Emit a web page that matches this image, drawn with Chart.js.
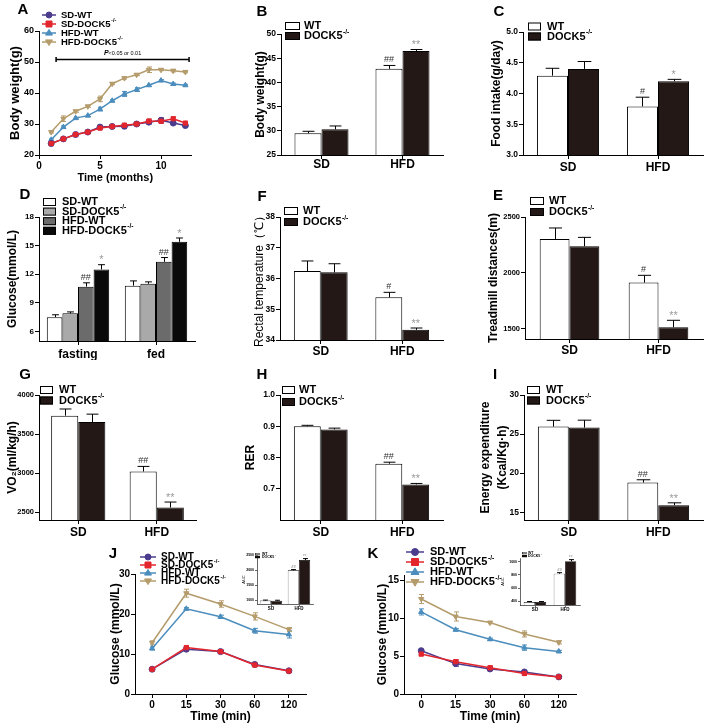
<!DOCTYPE html>
<html>
<head>
<meta charset="utf-8">
<script src="https://cdn.jsdelivr.net/npm/chart.js@4.4.1/dist/chart.umd.min.js"></script>
<style>
  body { margin: 0; background: #fff; }
  #wrap { position: relative; width: 709px; height: 725px; overflow: hidden; background: #fff; }
  #wrap canvas { position: absolute; }
</style>
</head>
<body>
<div id="wrap"></div>
<script>
// ---- data ----
const months = [1, 2, 3, 4, 5, 6, 7, 8, 9, 10, 11, 12];
const monthTicks = [0, 5, 10];
const bwSdWt = [23.7, 25.2, 26.6, 27.4, 29.0, 29.2, 29.3, 30.0, 30.6, 31.2, 30.3, 29.5];
const bwSdWtErr = [0.3, 0.3, 0.3, 0.3, 0.4, 0.5, 0.8, 0.4, 0.6, 0.8, 0.4, 0.3];
const bwSdKo = [23.7, 25.2, 26.6, 27.4, 28.7, 29.2, 29.6, 30.0, 30.9, 30.9, 31.7, 30.3];
const bwSdKoErr = [0.3, 0.3, 0.3, 0.4, 0.4, 0.6, 0.6, 0.5, 0.7, 0.6, 0.5, 0.4];
const bwHfdWt = [24.9, 29.0, 31.9, 32.7, 34.8, 37.5, 39.7, 41.1, 42.5, 44.0, 42.9, 42.5];
const bwHfdWtErr = [0.3, 0.4, 0.3, 0.3, 0.6, 0.3, 0.8, 0.6, 0.3, 0.3, 0.3, 0.3];
const bwHfdKo = [27.4, 31.7, 34.1, 35.7, 38.1, 43.0, 44.8, 45.9, 47.5, 47.5, 47.2, 46.8];
const bwHfdKoErr = [0.3, 0.9, 0.3, 0.3, 0.9, 0.3, 0.3, 0.3, 0.9, 0.3, 0.4, 0.3];
const bwTrend = { from: 1.4, to: 12.3, y: 51, text: '<0.05 or 0.01' };

const dietGroups = ['SD', 'HFD'];
const bwWt = [29.5, 42.8], bwWtErr = [0.4, 0.7];
const bwKo = [30.3, 46.5], bwKoErr = [0.7, 0.3];
const foodWt = [4.29, 3.79], foodWtErr = [0.12, 0.15];
const foodKo = [4.40, 4.20], foodKoErr = [0.12, 0.03];

const glucoseStates = ['fasting', 'fed'];
const gluSdWt = [7.5, 10.8], gluSdWtErr = [0.25, 0.5];
const gluSdKo = [7.9, 11.0], gluSdKoErr = [0.15, 0.2];
const gluHfdWt = [10.7, 13.3], gluHfdWtErr = [0.4, 0.45];
const gluHfdKo = [12.5, 15.4], gluHfdKoErr = [0.5, 0.4];

const tempWt = [36.24, 35.39], tempWtErr = [0.33, 0.16];
const tempKo = [36.20, 34.33], tempKoErr = [0.28, 0.06];
const runWt = [2304, 1914], runWtErr = [98, 65];
const runKo = [2238, 1515], runKoErr = [80, 62];
const vo2Wt = [3736, 3021], vo2WtErr = [85, 65];
const vo2Ko = [3655, 2560], vo2KoErr = [100, 70];
const rerWt = [0.900, 0.780], rerWtErr = [0.003, 0.005];
const rerKo = [0.890, 0.714], rerKoErr = [0.004, 0.003];
const eeWt = [25.96, 18.8], eeWtErr = [0.8, 0.35];
const eeKo = [25.83, 15.9], eeKoErr = [0.95, 0.3];

const sigWt1 = ['', '#'], sigWt2 = ['', '##'];
const sigKo1 = ['', '*'], sigKo2 = ['', '**'];

const testTimes = ['0', '15', '30', '60', '120'];
const gttSdWt = [6.2, 11.2, 10.6, 7.4, 5.8], gttSdWtErr = [0.3, 0.4, 0.3, 0.3, 0.3];
const gttSdKo = [6.2, 11.6, 10.6, 7.25, 5.75], gttSdKoErr = [0.3, 0.5, 0.4, 0.4, 0.4];
const gttHfdWt = [11.4, 21.3, 19.3, 15.8, 14.9], gttHfdWtErr = [0.4, 0.3, 0.4, 0.6, 0.9];
const gttHfdKo = [12.8, 25.2, 22.5, 19.4, 16.1], gttHfdKoErr = [0.5, 1.0, 0.8, 0.9, 0.5];
const ittSdWt = [5.7, 4.0, 3.3, 2.9, 2.25], ittSdWtErr = [0.15, 0.35, 0.2, 0.2, 0.1];
const ittSdKo = [5.25, 4.25, 3.45, 2.7, 2.25], ittSdKoErr = [0.2, 0.25, 0.25, 0.25, 0.15];
const ittHfdWt = [10.8, 8.45, 7.2, 6.1, 5.6], ittHfdWtErr = [0.4, 0.15, 0.15, 0.35, 0.15];
const ittHfdKo = [12.5, 10.2, 9.4, 7.9, 6.8], ittHfdKoErr = [0.6, 0.6, 0.15, 0.4, 0.2];
const aucGttWt = [985, 1990], aucGttWtErr = [15, 25];
const aucGttKo = [975, 2330], aucGttKoErr = [20, 50];
const aucIttWt = [385, 820], aucIttWtErr = [8, 15];
const aucIttKo = [385, 1010], aucIttKoErr = [8, 25];

// ---- styles ----
const FONT = "'Liberation Sans', Arial, Helvetica, sans-serif";
Chart.defaults.font.family = FONT;
Chart.defaults.color = '#000';
const KO_FILL = '#231815';
const lineStyles = [
  { text: 'SD-WT', color: '#4b3c8e', style: 'circle', rot: 0, order: 1 },
  { text: 'SD-DOCK5', sup: '-/-', color: '#e3262e', style: 'rect', rot: 0, order: 0 },
  { text: 'HFD-WT', color: '#4b8dbd', style: 'triangle', rot: 0, order: 2 },
  { text: 'HFD-DOCK5', sup: '-/-', color: '#b59c6c', style: 'triangle', rot: 180, order: 3 }
];
const barLegend = [{ text: 'WT', fill: '#fff' }, { text: 'DOCK5', sup: '-/-', fill: KO_FILL }];
const glucoseFills = ['#fff', '#a9a9a9', '#6b6b6b', '#0a0a0a'];

const wrap = document.getElementById('wrap');
function makeCanvas(box) {
  const c = document.createElement('canvas');
  c.width = box.w; c.height = box.h;
  c.style.left = box.left + 'px'; c.style.top = box.top + 'px';
  c.style.width = box.w + 'px'; c.style.height = box.h + 'px';
  wrap.appendChild(c);
  return c.getContext('2d');
}

function frame(box, area) {
  return {
    padding: { left: 0, top: area.y0 - box.top, right: box.left + box.w - area.x1, bottom: 0 },
    yWidth: area.x0 - box.left,
    xHeight: box.top + box.h - area.y1
  };
}

function supText(ctx, x, y, text, sup, size, weight) {
  ctx.font = `${weight} ${size}px ${FONT}`;
  ctx.fillText(text, x, y);
  if (sup) {
    const w = ctx.measureText(text).width;
    ctx.font = `${weight} ${size * 0.6}px ${FONT}`;
    ctx.fillText(sup, x + w + 0.5, y - size * 0.38);
  }
}

function marker(ctx, style, rot, x, y, r) {
  ctx.beginPath();
  if (style === 'circle') ctx.arc(x, y, r, 0, Math.PI * 2);
  else if (style === 'rect') ctx.rect(x - r, y - r, 2 * r, 2 * r);
  else {
    const s = rot ? -1 : 1;
    ctx.moveTo(x, y - s * r * 1.2);
    ctx.lineTo(x - r * 1.15, y + s * r * 0.7);
    ctx.lineTo(x + r * 1.15, y + s * r * 0.7);
    ctx.closePath();
  }
  ctx.fill();
  ctx.stroke();
}

// error bars (GraphPad style) + significance marks
function drawErrors(chart, type) {
  const ctx = chart.ctx;
  chart.data.datasets.forEach((ds, di) => {
    if (!ds.errors) return;
    const meta = chart.getDatasetMeta(di);
    if (meta.type !== type) return;
    const ys = chart.scales[meta.yAxisID];
    meta.data.forEach((el, i) => {
      const d = ds.data[i];
      const v = typeof d === 'object' ? d.y : d;
      const e = ds.errors[i];
      const top = ys.getPixelForValue(v + e);
      const x = Math.round(el.x) + 0.5;
      ctx.save();
      ctx.strokeStyle = ds.errorColor || '#000';
      ctx.lineWidth = ds.errorWidth || 1;
      ctx.beginPath();
      if (type === 'bar') {
        const half = el.width * 0.22;
        ctx.moveTo(x, el.y); ctx.lineTo(x, top);
        ctx.moveTo(x - half, top); ctx.lineTo(x + half, top);
      } else {
        const bot = ys.getPixelForValue(v - e);
        const half = ds.capHalf || 2.5;
        ctx.moveTo(x, bot); ctx.lineTo(x, top);
        ctx.moveTo(x - half, top); ctx.lineTo(x + half, top);
        ctx.moveTo(x - half, bot); ctx.lineTo(x + half, bot);
      }
      ctx.stroke();
      if (ds.sig && ds.sig[i]) {
        const star = ds.sig[i].includes('*');
        const sz = (ds.sigSize || 9) * (star ? 1.2 : 1);
        ctx.fillStyle = ds.sigColor || '#333';
        ctx.font = `${sz}px ${FONT}`;
        ctx.textAlign = 'center';
        ctx.textBaseline = 'alphabetic';
        ctx.fillText(ds.sig[i], el.x, top - sz * (star ? 0.12 : 0.33));
      }
      ctx.restore();
    });
  });
}
const errorBars = {
  id: 'errorBars',
  beforeDatasetsDraw(chart) { drawErrors(chart, 'line'); },
  afterDatasetsDraw(chart) { drawErrors(chart, 'bar'); }
};

// panel letter, legend and trend bracket
const decor = {
  id: 'decor',
  afterDraw(chart, args, o) {
    const ctx = chart.ctx;
    const ox = o.ox || 0, oy = o.oy || 0;
    ctx.save();
    ctx.fillStyle = '#000';
    ctx.textBaseline = 'middle';
    if (o.letter) {
      ctx.textAlign = 'center';
      ctx.font = `bold ${o.letter.size || 15}px ${FONT}`;
      ctx.fillText(o.letter.text, o.letter.x - ox, o.letter.y - oy);
    }
    if (o.bracket) {
      const b = o.bracket;
      const xs = chart.scales.x, ys = chart.scales.y;
      const x1 = xs.getPixelForValue(b.from), x2 = xs.getPixelForValue(b.to);
      const y = Math.round(ys.getPixelForValue(b.y)) + 0.5;
      ctx.strokeStyle = '#000'; ctx.lineWidth = 1.5;
      ctx.beginPath();
      ctx.moveTo(x1, y); ctx.lineTo(x2, y);
      ctx.moveTo(x1, y - 2.5); ctx.lineTo(x1, y + 2.5);
      ctx.moveTo(x2, y - 2.5); ctx.lineTo(x2, y + 2.5);
      ctx.stroke();
      ctx.font = `italic bold 7px ${FONT}`;
      const pw = ctx.measureText('P').width;
      ctx.font = `5.5px ${FONT}`;
      const tw = ctx.measureText(b.text).width;
      const sx = (x1 + x2) / 2 - (pw + tw) / 2;
      ctx.textAlign = 'left';
      ctx.font = `italic bold 7px ${FONT}`;
      ctx.fillText('P', sx, y - 6);
      ctx.font = `5.5px ${FONT}`;
      ctx.fillText(b.text, sx + pw, y - 6);
    }
    if (o.legend) {
      const L = o.legend;
      ctx.textAlign = 'left';
      L.items.forEach((it, i) => {
        const cy = L.y + i * L.row - oy;
        const mx = L.x - ox;
        if (it.style) {
          ctx.strokeStyle = it.color; ctx.lineWidth = 1.5;
          ctx.beginPath(); ctx.moveTo(mx - L.lineW / 2, cy); ctx.lineTo(mx + L.lineW / 2, cy); ctx.stroke();
          ctx.fillStyle = it.color; ctx.lineWidth = 1;
          marker(ctx, it.style, it.rot, mx, cy, L.r);
        } else {
          ctx.fillStyle = it.fill;
          ctx.fillRect(mx, cy - L.boxH / 2, L.boxW, L.boxH);
          ctx.strokeStyle = '#000'; ctx.lineWidth = L.lw || 1;
          ctx.strokeRect(mx + 0.5, cy - L.boxH / 2 + 0.5, L.boxW - 1, L.boxH - 1);
        }
        ctx.fillStyle = '#000';
        supText(ctx, L.textX - ox, cy, it.text, it.sup, L.size, 'bold');
      });
    }
    ctx.restore();
  }
};

function yScale(o, f) {
  return {
    min: o.min, max: o.max,
    afterBuildTicks(s) { s.ticks = o.ticks.map(v => ({ value: v })); },
    grid: { drawOnChartArea: false, tickLength: o.yTick || 4, color: '#000', lineWidth: o.axisW || 1 },
    border: { color: '#000', width: o.axisW || 1 },
    ticks: { color: '#000', padding: 1, font: { size: o.yFont || 8.5, weight: 'bold' }, callback: o.fmt || (v => String(v)) },
    title: {
      display: true, text: o.title, color: '#000',
      font: { size: o.tSize || 12, weight: o.tWeight || 'bold', lineHeight: o.tLh || 1.2 },
      padding: { top: o.tPad, bottom: 0 }
    },
    afterFit(s) { s.width = f.yWidth; }
  };
}

function barChart(box, area, o) {
  const f = frame(box, area);
  return new Chart(makeCanvas(box), {
    type: 'bar',
    data: { labels: o.labels, datasets: o.datasets },
    options: {
      responsive: false, animation: false, devicePixelRatio: 1,
      layout: { padding: f.padding },
      datasets: { bar: { categoryPercentage: o.cat, barPercentage: 1, borderWidth: o.bw || 1, borderColor: '#000', borderSkipped: 'bottom' } },
      plugins: { legend: { display: false }, tooltip: { enabled: false }, decor: Object.assign({ ox: box.left, oy: box.top }, o.decor) },
      scales: {
        x: {
          offset: true,
          grid: { drawOnChartArea: false, offset: false, tickLength: o.xTick || 4, color: '#000', lineWidth: o.axisW || 1 },
          border: { color: '#000', width: o.axisW || 1 },
          ticks: { color: '#000', padding: o.xPad || 0, font: { size: o.xFont || 12, weight: 'bold' } },
          afterFit(s) { s.height = f.xHeight; }
        },
        y: yScale(o, f)
      }
    },
    plugins: [errorBars, decor]
  });
}

function lineChart(box, area, o) {
  const f = frame(box, area);
  return new Chart(makeCanvas(box), {
    type: 'line',
    data: { labels: o.labels, datasets: o.datasets },
    options: {
      responsive: false, animation: false, devicePixelRatio: 1,
      layout: { padding: f.padding },
      plugins: { legend: { display: false }, tooltip: { enabled: false }, decor: Object.assign({ ox: box.left, oy: box.top }, o.decor) },
      scales: {
        x: Object.assign({
          grid: { drawOnChartArea: false, offset: false, tickLength: 4, color: '#000' },
          border: { color: '#000' },
          ticks: { color: '#000', padding: o.xPad, font: { size: o.xFont, weight: 'bold' } },
          title: { display: true, text: o.xTitle, color: '#000', font: { size: o.xtSize, weight: 'bold' }, padding: { top: 0, bottom: o.xtPad } },
          afterFit(s) { s.height = f.xHeight; }
        }, o.x),
        y: yScale(o, f)
      }
    },
    plugins: [errorBars, decor]
  });
}

function pairSets(wt, wtErr, ko, koErr, sigW, sigK, sigSize) {
  return [
    { data: wt, errors: wtErr, sig: sigW, backgroundColor: '#fff', sigColor: '#333', sigSize },
    { data: ko, errors: koErr, sig: sigK, backgroundColor: KO_FILL, sigColor: '#999', sigSize }
  ];
}

function lineSets(series, errs, toPoint, r) {
  return series.map((data, i) => {
    const s = lineStyles[i];
    return {
      data: toPoint ? data.map((v, j) => ({ x: toPoint[j], y: v })) : data,
      errors: errs[i],
      borderColor: s.color, backgroundColor: s.color, errorColor: s.color,
      pointStyle: s.style, pointRotation: s.rot, pointRadius: r, pointBorderWidth: 1,
      borderWidth: 1.5, tension: 0, order: s.order, capHalf: 2.5
    };
  });
}

function barLegendAt(x, y, row, textX, boxW) {
  return { x, y, row, textX, boxW: boxW || 14, boxH: 8, size: 11, items: barLegend };
}

// ---- A: body weight over time ----
lineChart({ left: 0, top: 0, w: 230, h: 190 }, { x0: 39, x1: 191.5, y0: 31, y1: 155 }, {
  datasets: lineSets([bwSdWt, bwSdKo, bwHfdWt, bwHfdKo], [bwSdWtErr, bwSdKoErr, bwHfdWtErr, bwHfdKoErr], months, 3),
  x: { type: 'linear', min: 0, max: 12.5, afterBuildTicks(s) { s.ticks = monthTicks.map(v => ({ value: v })); } },
  xFont: 10, xPad: 1, xTitle: 'Time (months)', xtSize: 11, xtPad: 5,
  min: 20, max: 60, ticks: [20, 30, 40, 50, 60], yFont: 9,
  title: 'Body weight(g)', tSize: 13, tPad: 8,
  decor: {
    letter: { text: 'A', x: 23, y: 10 },
    bracket: bwTrend,
    legend: { x: 49, lineW: 14, r: 3, textX: 61, y: 15, row: 9, size: 9.5, items: lineStyles }
  }
});

// ---- B: body weight ----
barChart({ left: 230, top: 0, w: 240, h: 175 }, { x0: 281, x1: 443, y0: 34, y1: 155 }, {
  labels: dietGroups, cat: 0.667,
  datasets: pairSets(bwWt, bwWtErr, bwKo, bwKoErr, sigWt2, sigKo2),
  min: 25, max: 50, ticks: [25, 30, 35, 40, 45, 50], xPad: -2,
  title: 'Body weight(g)', tPad: 23,
  decor: { letter: { text: 'B', x: 262, y: 12 }, legend: barLegendAt(285, 26, 10, 304, 15) }
});

// ---- C: food intake ----
barChart({ left: 470, top: 0, w: 239, h: 175 }, { x0: 523, x1: 703, y0: 32, y1: 155 }, {
  labels: dietGroups, cat: 0.69,
  datasets: pairSets(foodWt, foodWtErr, foodKo, foodKoErr, sigWt1, sigKo1),
  min: 3, max: 5, ticks: [3, 3.5, 4, 4.5, 5], fmt: v => v.toFixed(1), xPad: 1,
  title: 'Food intake(g/day)', tPad: 19,
  decor: { letter: { text: 'C', x: 499, y: 12 }, legend: barLegendAt(528, 26.5, 10, 547, 13) }
});

// ---- D: glucose ----
barChart({ left: 0, top: 180, w: 230, h: 180 }, { x0: 39, x1: 195, y0: 217, y1: 341 }, {
  labels: glucoseStates, cat: 0.8,
  datasets: [
    { data: gluSdWt, errors: gluSdWtErr, backgroundColor: glucoseFills[0] },
    { data: gluSdKo, errors: gluSdKoErr, backgroundColor: glucoseFills[1] },
    { data: gluHfdWt, errors: gluHfdWtErr, backgroundColor: glucoseFills[2], sig: ['##', '##'], sigColor: '#333' },
    { data: gluHfdKo, errors: gluHfdKoErr, backgroundColor: glucoseFills[3], sig: ['*', '*'], sigColor: '#999' }
  ],
  min: 5, max: 18, ticks: [6, 9, 12, 15, 18], yFont: 8, xPad: 2,
  title: 'Glucose(mmol/L)', tPad: 5,
  decor: {
    letter: { text: 'D', x: 25, y: 195 },
    legend: {
      x: 43, y: 202, row: 9.6, textX: 62, boxW: 13, boxH: 8, size: 11,
      items: lineStyles.map((s, i) => ({ text: s.text, sup: s.sup, fill: glucoseFills[i] }))
    }
  }
});

// ---- F: rectal temperature ----
barChart({ left: 230, top: 180, w: 240, h: 180 }, { x0: 280, x1: 443, y0: 217, y1: 340 }, {
  labels: dietGroups, cat: 0.66,
  datasets: pairSets(tempWt, tempWtErr, tempKo, tempKoErr, sigWt1, sigKo2),
  min: 34, max: 38, ticks: [34, 35, 36, 37, 38], xPad: 0,
  title: 'Rectal temperature（℃）', tWeight: 'normal', tPad: 22,
  decor: { letter: { text: 'F', x: 262, y: 197 }, legend: barLegendAt(284, 211, 11, 303) }
});

// ---- E: treadmill ----
barChart({ left: 470, top: 180, w: 239, h: 180 }, { x0: 525, x1: 703, y0: 217, y1: 339 }, {
  labels: dietGroups, cat: 0.67,
  datasets: pairSets(runWt, runWtErr, runKo, runKoErr, sigWt1, sigKo2),
  min: 1410, max: 2500, ticks: [1500, 2000, 2500], yFont: 7.5, xPad: 0,
  title: 'Treadmill distances(m)', tPad: 16,
  decor: { letter: { text: 'E', x: 498, y: 196 }, legend: barLegendAt(530, 201, 11, 549) }
});

// ---- G: VO2 ----
barChart({ left: 0, top: 360, w: 230, h: 180 }, { x0: 39, x1: 196, y0: 395, y1: 520 }, {
  labels: dietGroups, cat: 0.69,
  datasets: pairSets(vo2Wt, vo2WtErr, vo2Ko, vo2KoErr, sigWt2, sigKo2),
  min: 2400, max: 4000, ticks: [2500, 3000, 3500, 4000], yFont: 7.5, xPad: 1,
  title: 'VO₂(ml/kg/h)', tPad: 5,
  decor: { letter: { text: 'G', x: 25, y: 375 }, legend: barLegendAt(40, 390, 10.5, 59, 13) }
});

// ---- H: RER ----
barChart({ left: 230, top: 360, w: 240, h: 180 }, { x0: 280, x1: 443, y0: 395, y1: 520 }, {
  labels: dietGroups, cat: 0.66,
  datasets: pairSets(rerWt, rerWtErr, rerKo, rerKoErr, sigWt2, sigKo2),
  min: 0.6, max: 1.0, ticks: [0.7, 0.8, 0.9, 1.0], fmt: v => v.toFixed(1), xPad: 1,
  title: 'RER', tPad: 13,
  decor: { letter: { text: 'H', x: 262, y: 375 }, legend: barLegendAt(282, 390, 12, 299, 13) }
});

// ---- I: energy expenditure ----
barChart({ left: 470, top: 360, w: 239, h: 180 }, { x0: 524, x1: 703, y0: 395, y1: 520 }, {
  labels: dietGroups, cat: 0.69,
  datasets: pairSets(eeWt, eeWtErr, eeKo, eeKoErr, sigWt2, sigKo2),
  min: 14, max: 30, ticks: [15, 20, 25, 30], xPad: 1,
  title: ['Energy expenditure', '(Kcal/Kg·h)'], tLh: 1.35, tPad: 8,
  decor: { letter: { text: 'I', x: 495, y: 375 }, legend: barLegendAt(527, 390, 10.5, 546, 13) }
});

// ---- J: glucose tolerance ----
lineChart({ left: 100, top: 540, w: 260, h: 185 }, { x0: 135, x1: 306, y0: 574, y1: 694 }, {
  labels: testTimes,
  datasets: lineSets([gttSdWt, gttSdKo, gttHfdWt, gttHfdKo], [gttSdWtErr, gttSdKoErr, gttHfdWtErr, gttHfdKoErr], null, 3),
  x: { type: 'category', offset: true },
  xFont: 10, xPad: 1, xTitle: 'Time (min)', xtSize: 12, xtPad: 1,
  min: 0, max: 30, ticks: [0, 10, 20, 30], yFont: 10,
  title: 'Glucose (mmol/L)', tPad: 8,
  decor: {
    letter: { text: 'J', x: 113, y: 554 },
    legend: { x: 148, lineW: 16, r: 3, textX: 161, y: 557, row: 8, size: 10, items: lineStyles }
  }
});
barChart({ left: 228, top: 545, w: 92, h: 72 }, { x0: 257, x1: 313, y0: 555, y1: 604 }, {
  labels: dietGroups, cat: 0.8, bw: 0.6, axisW: 0.6,
  datasets: pairSets(aucGttWt, aucGttWtErr, aucGttKo, aucGttKoErr, sigWt2, sigKo2, 4),
  min: 870, max: 2500, ticks: [1000, 1500, 2000, 2500], yFont: 3.5, yTick: 2, xTick: 2, xFont: 4.5, xPad: 0.5,
  title: 'AUC', tSize: 4, tWeight: 'normal', tPad: 13,
  decor: { legend: { x: 255, y: 554, row: 3, textX: 262, boxW: 5, boxH: 2.5, size: 3.5, lw: 0.5, items: barLegend } }
});

// ---- K: insulin tolerance ----
lineChart({ left: 360, top: 540, w: 260, h: 185 }, { x0: 404, x1: 576, y0: 575, y1: 694 }, {
  labels: testTimes,
  datasets: lineSets([ittSdWt, ittSdKo, ittHfdWt, ittHfdKo], [ittSdWtErr, ittSdKoErr, ittHfdWtErr, ittHfdKoErr], null, 3),
  x: { type: 'category', offset: true },
  xFont: 10, xPad: 1, xTitle: 'Time (min)', xtSize: 12, xtPad: 1,
  min: 0, max: 15.66, ticks: [0, 5, 10, 15], yFont: 10,
  title: 'Glucose (mmol/L)', tPad: 15,
  decor: {
    letter: { text: 'K', x: 373, y: 554 },
    legend: { x: 415, lineW: 18, r: 3.5, textX: 430, y: 552, row: 10, size: 11, items: lineStyles }
  }
});
barChart({ left: 490, top: 548, w: 95, h: 72 }, { x0: 520, x1: 580, y0: 558, y1: 605 }, {
  labels: dietGroups, cat: 0.75, bw: 0.6, axisW: 0.6,
  datasets: pairSets(aucIttWt, aucIttWtErr, aucIttKo, aucIttKoErr, sigWt2, sigKo2, 4),
  min: 340, max: 1060, ticks: [400, 600, 800, 1000], yFont: 3.5, yTick: 2, xTick: 2, xFont: 4.5, xPad: 0.5,
  title: 'AUC', tSize: 4, tWeight: 'normal', tPad: 10,
  decor: { legend: { x: 522, y: 553, row: 3, textX: 528, boxW: 5, boxH: 2.5, size: 3.5, lw: 0.5, items: barLegend } }
});
</script>
</body>
</html>
